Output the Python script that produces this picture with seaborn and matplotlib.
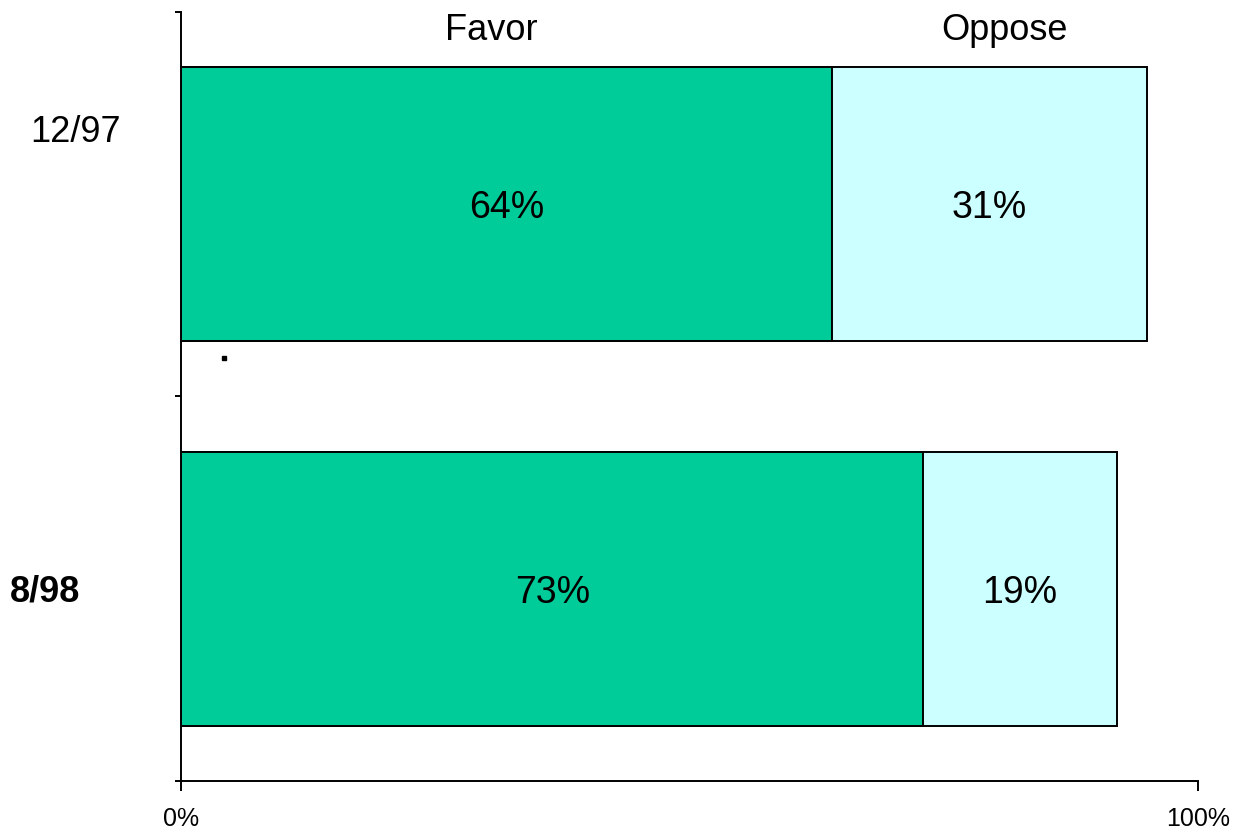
import pandas as pd
import numpy as np
import matplotlib.pyplot as plt
import seaborn as sns

periods = ['12/97', '8/98']
favor = [64, 73]
oppose = [31, 19]

green = '#00CC99'
cyan = '#CCFFFF'

df = pd.DataFrame({'period': periods, 'favor': favor, 'oppose': oppose})
df['total'] = df['favor'] + df['oppose']

sns.set_style('white')
plt.rcParams['font.family'] = ['Liberation Sans', 'DejaVu Sans']
plt.rcParams['text.color'] = 'black'
plt.rcParams['xtick.color'] = 'black'
plt.rcParams['ytick.color'] = 'black'

fig = plt.figure(figsize=(12.34, 8.31), dpi=100)
ax = fig.add_axes([0.1467, 0.0602, 0.8241, 0.9254])

# stacked look: total bar first, favor on top
sns.barplot(data=df, y='period', x='total', orient='h', color=cyan, width=0.713,
            edgecolor='black', linewidth=1.4, saturation=1, ax=ax)
sns.barplot(data=df, y='period', x='favor', orient='h', color=green, width=0.713,
            edgecolor='black', linewidth=1.4, saturation=1, ax=ax)

for i in range(len(periods)):
    ax.text(favor[i] / 2, i, f'{favor[i]}%', ha='center', va='center_baseline', fontsize=27)
    ax.text(favor[i] + oppose[i] / 2, i, f'{oppose[i]}%', ha='center', va='center_baseline', fontsize=27)

ax.set_xlim(0, 100)
ax.set_ylim(1.5, -0.5)
ax.set_xticks([0, 100])
ax.set_xticklabels(['0%', '100%'], fontsize=18)
ax.set_yticks([-0.5, 0.5, 1.5])
ax.set_yticklabels([])
ax.tick_params(axis='x', direction='out', length=7, width=1.4, pad=12, bottom=True)
ax.tick_params(axis='y', direction='out', length=4, width=1.4, left=True)
ax.set_xlabel('')
ax.set_ylabel('')
sns.despine(ax=ax)
for s in ['left', 'bottom']:
    ax.spines[s].set_linewidth(1.4)
    ax.spines[s].set_color('black')

# row labels and column headers
tr = ax.get_yaxis_transform()
ax.text(-0.104, -0.198, '12/97', transform=tr, ha='center', va='center_baseline', fontsize=26)
ax.text(-0.134, 0.998, '8/98', transform=tr, ha='center', va='center_baseline', fontsize=26, fontweight='bold')
ax.text(30.5, -0.461, 'Favor', ha='center', va='center_baseline', fontsize=26)
ax.text(81, -0.461, 'Oppose', ha='center', va='center_baseline', fontsize=26)
ax.plot([4.2], [0.40], marker='s', markersize=2.5, color='black')

fig.savefig('out.png', dpi=100)
